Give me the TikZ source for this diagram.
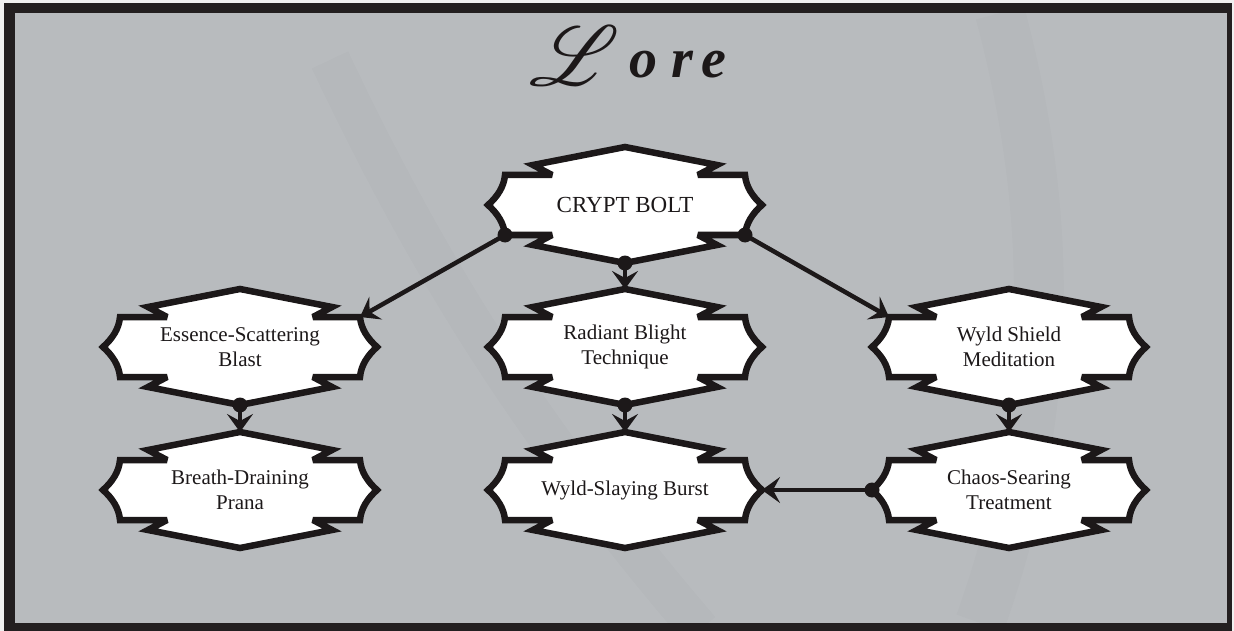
\documentclass[tikz,border=0pt]{standalone}
\usepackage{fontspec}
\usepackage{mathrsfs}
\setmainfont{Liberation Serif}
\usetikzlibrary{arrows.meta,calc,backgrounds}
\definecolor{framedark}{RGB}{35,31,32}
\definecolor{paper}{RGB}{184,187,190}
\definecolor{ink}{RGB}{28,24,25}
\newcommand\loreoutline[1]{%
  \begin{scope}[shift={(#1.center)}]
    \filldraw[loreline] (-137,0) .. controls (-128,-8) and (-121,-18) .. (-120,-30)
      -- (-73,-30) -- (-92,-40) -- (0,-58) -- (92,-40) -- (73,-30) -- (120,-30)
      .. controls (121,-18) and (128,-8) .. (137,0)
      .. controls (128,8) and (121,18) .. (120,30)
      -- (73,30) -- (92,40) -- (0,58) -- (-92,40) -- (-73,30) -- (-120,30)
      .. controls (-121,18) and (-128,8) .. (-137,0) -- cycle;
  \end{scope}}
\begin{document}
\begin{tikzpicture}[x=1pt,y=-1pt,
  lorebox/.style={inner sep=0pt, minimum width=240pt, minimum height=60pt,
    align=center, text=ink, font=\fontsize{21}{25}\selectfont},
  loreline/.style={draw=ink, fill=white, line width=6.5pt, line join=miter, miter limit=4},
  conn/.style={draw=ink, line width=4.5pt, -{Stealth[length=18pt,width=26pt,inset=7pt]}},
  srcdot/.style={fill=ink}]
\useasboundingbox (0,0) rectangle (1234,631);
% text nodes
\node[lorebox, font=\fontsize{23}{27}\selectfont] (crypt) at (625,205) {CRYPT BOLT};
\node[lorebox] (ess) at (240,347) {Essence-Scattering\\Blast};
\node[lorebox] (rad) at (625,347) {Radiant Blight\\Technique};
\node[lorebox] (wsm) at (1009,347) {Wyld Shield\\Meditation};
\node[lorebox] (bdp) at (240,490) {Breath-Draining\\Prana};
\node[lorebox] (wsb) at (625,490) {Wyld-Slaying Burst};
\node[lorebox] (cst) at (1009,490) {Chaos-Searing\\Treatment};
\node[text=ink, font=\fontsize{56}{56}\selectfont\bfseries\itshape, anchor=base, inner sep=0pt] (title) at (628,78)
  {\raisebox{-8pt}{\scalebox{3.4}{$\mathscr{L}$}}\hspace{10pt}o\hspace{14pt}r\hspace{8pt}e};
\begin{scope}[on background layer]
  \fill[white!88!gray] (0,0) rectangle (1234,631);
  \fill[framedark] (4,3) rectangle (1232,631);
  \fill[paper] (15,13) rectangle (1227,623);
  \begin{scope}
    \clip (15,13) rectangle (1227,623);
    \draw[black, opacity=0.014, line width=40pt] (330,60) .. controls (420,250) and (520,420) .. (700,630);
    \draw[black, opacity=0.012, line width=50pt] (1000,13) .. controls (1050,200) and (1060,400) .. (980,623);
  \end{scope}
  \loreoutline{crypt}
  \loreoutline{ess}
  \loreoutline{rad}
  \loreoutline{wsm}
  \loreoutline{bdp}
  \loreoutline{wsb}
  \loreoutline{cst}
\end{scope}
% connectors
\draw[conn] ($(crypt.center)+(-120,30)$) -- ($(ess.center)+(120,-30)$);
\draw[conn] ($(crypt.center)+(0,58)$) -- ($(rad.center)+(0,-58)$);
\draw[conn] ($(crypt.center)+(120,30)$) -- ($(wsm.center)+(-120,-30)$);
\draw[conn] ($(ess.center)+(0,58)$) -- ($(bdp.center)+(0,-58)$);
\draw[conn] ($(rad.center)+(0,58)$) -- ($(wsb.center)+(0,-58)$);
\draw[conn] ($(wsm.center)+(0,58)$) -- ($(cst.center)+(0,-58)$);
\draw[conn] ($(cst.center)+(-137,0)$) -- ($(wsb.center)+(137,0)$);
% source dots
\fill[srcdot] ($(crypt.center)+(-120,30)$) circle (7.5pt);
\fill[srcdot] ($(crypt.center)+(0,58)$) circle (7.5pt);
\fill[srcdot] ($(crypt.center)+(120,30)$) circle (7.5pt);
\fill[srcdot] ($(ess.center)+(0,58)$) circle (7.5pt);
\fill[srcdot] ($(rad.center)+(0,58)$) circle (7.5pt);
\fill[srcdot] ($(wsm.center)+(0,58)$) circle (7.5pt);
\fill[srcdot] ($(cst.center)+(-137,0)$) circle (7.5pt);
\end{tikzpicture}
\end{document}
